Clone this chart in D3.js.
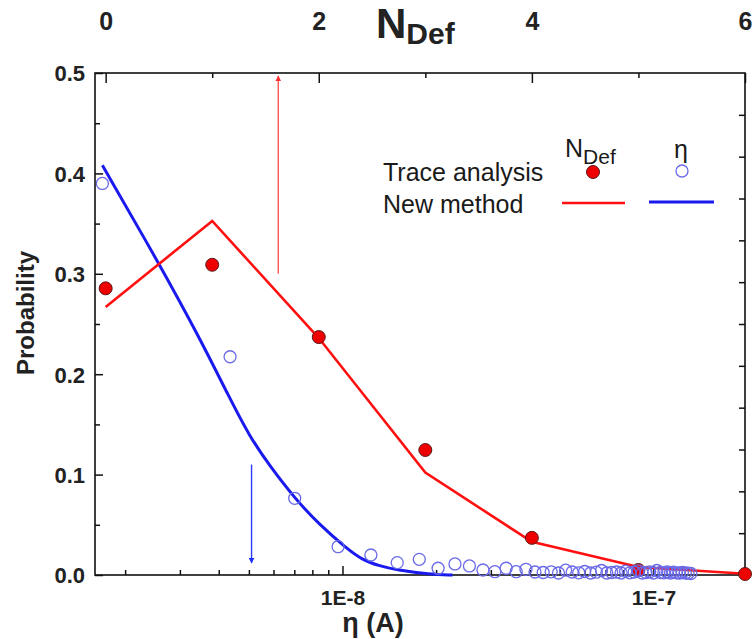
<!DOCTYPE html>
<html>
<head>
<meta charset="utf-8">
<script src="https://cdn.jsdelivr.net/npm/d3@7"></script>
<style>
  html, body { margin: 0; padding: 0; background: #fff; }
  svg { display: block; }
  text { font-family: "Liberation Sans", Arial, sans-serif; }
</style>
</head>
<body>
<svg id="chart" width="753" height="639"></svg>
<script>
// ---------- DATA ----------
const ndefValues = [0, 1, 2, 3, 4, 5, 6];
const traceNdef  = [0.2855, 0.309, 0.237, 0.1245, 0.037, 0.005, 0.001];
const newNdef    = [0.267, 0.3526, 0.236, 0.102, 0.033, 0.008, 0.0013];

const etaValues = [1.69e-9, 4.35e-9, 7.02e-9, 9.68e-9, 1.234e-8, 1.50e-8, 1.766e-8, 2.03e-8, 2.30e-8, 2.56e-8,
                   2.83e-8, 3.09e-8, 3.36e-8, 3.62e-8, 3.89e-8, 4.16e-8, 4.42e-8, 4.69e-8, 4.95e-8, 5.22e-8,
                   5.48e-8, 5.75e-8, 6.01e-8, 6.28e-8, 6.55e-8, 6.81e-8, 7.08e-8, 7.34e-8, 7.61e-8, 7.87e-8,
                   8.14e-8, 8.40e-8, 8.67e-8, 8.94e-8, 9.20e-8, 9.47e-8, 9.73e-8, 1.0e-7, 1.026e-7, 1.053e-7,
                   1.08e-7, 1.106e-7, 1.133e-7, 1.159e-7, 1.186e-7, 1.212e-7, 1.239e-7, 1.266e-7, 1.292e-7, 1.319e-7];
const traceEta  = [0.390, 0.2174, 0.0764, 0.0282, 0.0199, 0.0123, 0.0156, 0.0067, 0.011, 0.009,
                   0.005, 0.0033, 0.0067, 0.0033, 0.0057, 0.003, 0.0025, 0.0032, 0.002, 0.0048,
                   0.003, 0.0022, 0.0035, 0.002, 0.0028, 0.0045, 0.002, 0.0025, 0.003, 0.002,
                   0.0038, 0.0022, 0.003, 0.0042, 0.002, 0.0025, 0.0032, 0.002, 0.0045, 0.0025,
                   0.0022, 0.003, 0.002, 0.0028, 0.0022, 0.002, 0.0025, 0.002, 0.0018, 0.0015];

const curveEta = [1.69e-9, 2.585e-9, 3.476e-9, 4.34e-9, 5.03e-9, 5.835e-9, 7.02e-9, 8.45e-9, 1.03e-8, 1.16e-8, 1.318e-8, 1.49e-8, 1.91e-8, 2.26e-8];
const curveP   = [0.408, 0.309, 0.2358, 0.176, 0.1378, 0.1086, 0.0764, 0.0498, 0.0266, 0.0149, 0.009, 0.005, 0.0007, 0.0];

const yTicks = [0, 0.1, 0.2, 0.3, 0.4, 0.5];
const yMinor = [0.05, 0.15, 0.25, 0.35, 0.45];
const topTicks = [0, 2, 4, 6];
const topMinor = [1, 3, 5];
const etaTicks = [1e-8, 1e-7];
const etaTickLabels = ["1E-8", "1E-7"];
const etaMinor = [2e-9, 3e-9, 4e-9, 5e-9, 6e-9, 7e-9, 8e-9, 9e-9, 2e-8, 3e-8, 4e-8, 5e-8, 6e-8, 7e-8, 8e-8, 9e-8];
const rightTicks = [0.05, 0.1, 0.15, 0.2, 0.25, 0.3, 0.35, 0.4, 0.45, 0.5, 0.55];

const redArrow = {n: 1.62, from: 0.30, to: 0.497};
const blueArrow = {eta: 5.1e-9, from: 0.11, to: 0.012};

// ---------- LAYOUT ----------
const L = 95, R = 745, T = 73, B = 575;
const svg = d3.select("#chart");

const x = d3.scaleLog().domain([1.6e-9, 1.97e-7]).range([L, R]);
const xTop = d3.scaleLinear().domain([-0.1, 6]).range([L, R]);
const y = d3.scaleLinear().domain([0, 0.5]).range([B, T]);
const y2 = d3.scaleLinear().domain([0, 0.6]).range([B, T]);

const RED = "#ff1010", BLUE = "#1a1aee", RING = "#6a6ae8";

// ---------- AXES ----------
function styleAxis(g) {
  g.select(".domain").remove();
  g.selectAll(".tick line").attr("stroke", "#111").attr("stroke-width", 1.5);
  g.selectAll("text").attr("fill", "#222").attr("font-weight", "bold");
}

// left
svg.append("g").attr("transform", `translate(${L},0)`)
  .call(d3.axisLeft(y).tickValues(yTicks).tickSize(-8).tickPadding(10).tickFormat(d3.format(".1f")))
  .call(styleAxis).call(g => g.selectAll("text").attr("font-size", 22).attr("dy", "0.36em"));
svg.append("g").attr("transform", `translate(${L},0)`)
  .call(d3.axisLeft(y).tickValues(yMinor).tickSize(-5).tickFormat(""))
  .call(styleAxis);

// right
svg.append("g").attr("transform", `translate(${R},0)`)
  .call(d3.axisRight(y2).tickValues(rightTicks).tickSize(-6).tickFormat(""))
  .call(styleAxis);

// bottom
svg.append("g").attr("transform", `translate(0,${B})`)
  .call(d3.axisBottom(x).tickValues(etaTicks).tickSize(-9).tickPadding(15)
        .tickFormat((d, i) => etaTickLabels[i]))
  .call(styleAxis).call(g => g.selectAll("text").attr("font-size", 21));
svg.append("g").attr("transform", `translate(0,${B})`)
  .call(d3.axisBottom(x).tickValues(etaMinor).tickSize(-5).tickFormat(""))
  .call(styleAxis);

// top
svg.append("g").attr("transform", `translate(0,${T})`)
  .call(d3.axisTop(xTop).tickValues(topTicks).tickSize(-10).tickPadding(43).tickFormat(d3.format("d")))
  .call(styleAxis).call(g => g.selectAll("text").attr("font-size", 25).attr("dy", "0"));
svg.append("g").attr("transform", `translate(0,${T})`)
  .call(d3.axisTop(xTop).tickValues(topMinor).tickSize(-5).tickFormat(""))
  .call(styleAxis);

// frame
svg.append("rect").attr("x", L).attr("y", T).attr("width", R - L).attr("height", B - T)
  .attr("fill", "none").attr("stroke", "#111").attr("stroke-width", 1.6);

// axis titles
svg.append("text").attr("x", 373).attr("y", 632).attr("text-anchor", "middle")
  .attr("font-size", 27).attr("font-weight", "bold").attr("fill", "#222").text("η (A)");

svg.append("text").attr("transform", "translate(34,313) rotate(-90)").attr("text-anchor", "middle")
  .attr("font-size", 24).attr("font-weight", "bold").attr("fill", "#222").text("Probability");

const nt = svg.append("text").attr("x", 376).attr("y", 38).attr("font-weight", "bold").attr("fill", "#222");
nt.append("tspan").attr("font-size", 42).text("N");
nt.append("tspan").attr("font-size", 30).attr("dy", 6).text("Def");

// ---------- MARKS ----------
// arrows
const defs = svg.append("defs");
function marker(id, color) {
  defs.append("marker").attr("id", id).attr("viewBox", "0 0 10 10").attr("refX", 9).attr("refY", 5)
    .attr("markerWidth", 6).attr("markerHeight", 8).attr("markerUnits", "userSpaceOnUse")
    .attr("orient", "auto")
    .append("path").attr("d", "M0,0 L10,5 L0,10 Z").attr("fill", color);
}
marker("ahRed", "#ff3030");
marker("ahBlue", "#1a2aff");
svg.append("line")
  .attr("x1", xTop(redArrow.n)).attr("x2", xTop(redArrow.n))
  .attr("y1", y(redArrow.from)).attr("y2", y(redArrow.to))
  .attr("stroke", "#ff5555").attr("stroke-width", 1.4).attr("marker-end", "url(#ahRed)");
svg.append("line")
  .attr("x1", x(blueArrow.eta)).attr("x2", x(blueArrow.eta))
  .attr("y1", y(blueArrow.from)).attr("y2", y(blueArrow.to))
  .attr("stroke", "#2a3aff").attr("stroke-width", 1.4).attr("marker-end", "url(#ahBlue)");

// blue curve
svg.append("path").datum(curveEta.map((e, i) => [e, curveP[i]]))
  .attr("fill", "none").attr("stroke", BLUE).attr("stroke-width", 3)
  .attr("d", d3.line().x(d => x(d[0])).y(d => y(d[1])).curve(d3.curveBasis));

// red line
svg.append("path").datum(ndefValues.map((n, i) => [n, newNdef[i]]))
  .attr("fill", "none").attr("stroke", RED).attr("stroke-width", 2.6).attr("stroke-linejoin", "miter")
  .attr("d", d3.line().x(d => xTop(d[0])).y(d => y(d[1])));

// red dots
svg.append("g").selectAll("circle").data(ndefValues.map((n, i) => [n, traceNdef[i]])).join("circle")
  .attr("cx", d => xTop(d[0])).attr("cy", d => y(d[1])).attr("r", 6.5)
  .attr("fill", "#ee0000").attr("stroke", "#5a1a1a").attr("stroke-width", 1);

// rings
svg.append("g").selectAll("circle").data(etaValues.map((e, i) => [e, traceEta[i]])).join("circle")
  .attr("cx", d => x(d[0])).attr("cy", d => y(d[1])).attr("r", 6)
  .attr("fill", "none").attr("stroke", RING).attr("stroke-width", 1.3);

// ---------- LEGEND ----------
const lg = svg.append("g");
lg.append("text").attr("x", 383).attr("y", 181).attr("font-size", 25).attr("fill", "#1a1a1a").text("Trace analysis");
lg.append("text").attr("x", 383).attr("y", 213).attr("font-size", 25).attr("fill", "#1a1a1a").text("New method");
const lh = lg.append("text").attr("x", 565).attr("y", 157).attr("fill", "#1a1a1a");
lh.append("tspan").attr("font-size", 25).text("N");
lh.append("tspan").attr("font-size", 21).attr("dy", 7).text("Def");
lg.append("text").attr("x", 681).attr("y", 158).attr("text-anchor", "middle").attr("font-size", 25)
  .attr("fill", "#1a1a1a").text("η");
lg.append("circle").attr("cx", 593).attr("cy", 172).attr("r", 6.5)
  .attr("fill", "#ee0000").attr("stroke", "#5a1a1a").attr("stroke-width", 1);
lg.append("circle").attr("cx", 682).attr("cy", 171).attr("r", 6)
  .attr("fill", "none").attr("stroke", RING).attr("stroke-width", 1.3);
lg.append("line").attr("x1", 562).attr("x2", 625).attr("y1", 203).attr("y2", 203)
  .attr("stroke", RED).attr("stroke-width", 2.6);
lg.append("line").attr("x1", 649).attr("x2", 714).attr("y1", 202).attr("y2", 202)
  .attr("stroke", BLUE).attr("stroke-width", 3);
</script>
</body>
</html>
